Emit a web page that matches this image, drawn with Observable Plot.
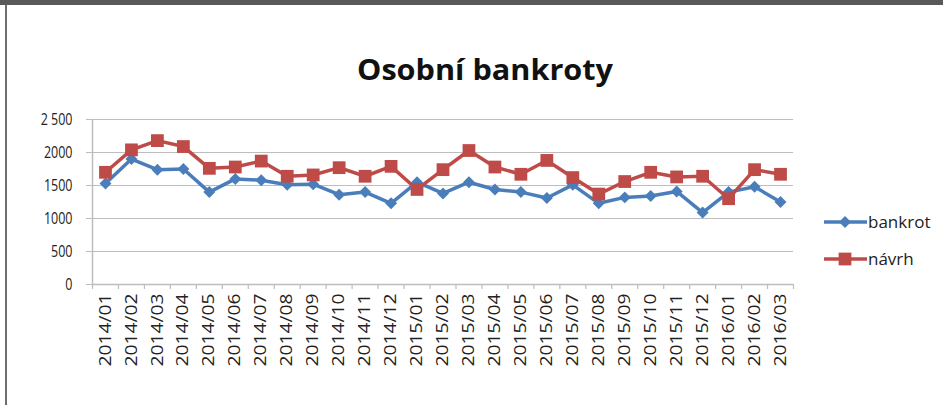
<!DOCTYPE html>
<html>
<head>
<meta charset="utf-8">
<script src="https://cdn.jsdelivr.net/npm/d3@7"></script>
<script src="https://cdn.jsdelivr.net/npm/@observablehq/plot@0.6"></script>
<style>
  html, body { margin: 0; padding: 0; background: #fff; }
  #wrap { position: relative; width: 943px; height: 405px; overflow: hidden; background: #fff; }
  #topbar { position: absolute; left: 0; top: 0; width: 943px; height: 5px; background: #59595b; }
  #leftbar { position: absolute; left: 5px; top: 5px; width: 2px; height: 400px; background: #6e6e6e; }
</style>
</head>
<body>
<div id="wrap"><div id="chart"></div><div id="topbar"></div><div id="leftbar"></div></div>
<script>
// ---- data ----
const months = ["2014/01","2014/02","2014/03","2014/04","2014/05","2014/06","2014/07","2014/08","2014/09","2014/10","2014/11","2014/12",
                "2015/01","2015/02","2015/03","2015/04","2015/05","2015/06","2015/07","2015/08","2015/09","2015/10","2015/11","2015/12",
                "2016/01","2016/02","2016/03"];
const bankrot = [1530,1900,1740,1750,1400,1600,1580,1510,1520,1360,1400,1230,1550,1380,1550,1440,1400,1310,1510,1230,1320,1340,1410,1090,1400,1480,1250];
const navrh   = [1700,2040,2180,2090,1760,1780,1870,1640,1660,1770,1640,1790,1440,1740,2030,1780,1670,1880,1620,1370,1560,1700,1630,1640,1300,1740,1670];
const seriesNames = ["bankrot", "návrh"];
const yTicks = [0, 500, 1000, 1500, 2000, 2500];
const yTickLabels = ["0", "500", "1000", "1500", "2000", "2 500"];
const title = "Osobní bankroty";

// ---- layout / style ----
const W = 943, H = 405;
const mL = 92, mR = 150, mT = 119, mB = 121;
const blue = "#4a7ebb", red = "#be4b48", gridC = "#bdbdbd", axisC = "#bdbdbd", textC = "#222";
const font = "Open Sans";

const n = months.length;
const idx = d3.range(n);
const rowsB = idx.map(i => ({i, month: months[i], value: bankrot[i]}));
const rowsN = idx.map(i => ({i, month: months[i], value: navrh[i]}));
const boundaries = d3.range(n + 1).map(i => i - 0.5);
const labelOf = new Map(yTicks.map((t, i) => [t, yTickLabels[i]]));

const chart = Plot.plot({
  width: W, height: H,
  marginLeft: mL, marginRight: mR, marginTop: mT, marginBottom: mB,
  style: {fontFamily: font, fontSize: "15px", color: textC, background: "transparent"},
  x: {domain: [-0.5, n - 0.5], label: null},
  y: {domain: [0, 2500], label: null},
  marks: [
    Plot.gridY(yTicks, {stroke: gridC, strokeOpacity: 1, strokeWidth: 1.2}),
    // y axis line
    Plot.ruleX([-0.5], {y1: 0, y2: 2500, stroke: axisC, strokeWidth: 1.5}),
    // x axis line
    Plot.ruleY([0], {stroke: axisC, strokeWidth: 1.5}),
    // category boundary ticks
    Plot.ruleX(boundaries, {y1: 0, y2: 0, insetBottom: -5, stroke: axisC, strokeWidth: 1.2}),
    Plot.axisY({ticks: yTicks, tickFormat: d => labelOf.get(d), tickSize: 6, tickPadding: 14, stroke: axisC, fill: textC, fontSize: 16, label: null}),
    Plot.axisX({ticks: idx, tickFormat: i => months[i], tickSize: 0, tickPadding: 9, tickRotate: -90, fill: textC, fontSize: 16, label: null}),
    Plot.line(rowsB, {x: "i", y: "value", stroke: blue, strokeWidth: 3.5}),
    Plot.dot(rowsB, {x: "i", y: "value", symbol: "diamond2", r: 5.4, fill: blue, stroke: "none"}),
    Plot.line(rowsN, {x: "i", y: "value", stroke: red, strokeWidth: 3.5}),
    Plot.dot(rowsN, {x: "i", y: "value", symbol: "square", r: 7.2, fill: red, stroke: "none"})
  ]
});
document.getElementById("chart").appendChild(chart);

const svg = d3.select(chart);
// stretch/compress tick labels to match reference proportions
svg.selectAll('g[aria-label="y-axis tick label"] text').each(function() {
  const L = this.getComputedTextLength();
  this.setAttribute("textLength", L * 0.78);
  this.setAttribute("lengthAdjust", "spacingAndGlyphs");
});
svg.selectAll('g[aria-label="x-axis tick label"] text').each(function() {
  this.setAttribute("textLength", 73);
  this.setAttribute("lengthAdjust", "spacingAndGlyphs");
});

// title
svg.append("text")
  .attr("x", 485).attr("y", 80)
  .attr("text-anchor", "middle")
  .attr("font-family", font).attr("font-weight", "bold").attr("font-size", 28)
  .attr("fill", "#111")
  .attr("textLength", 256).attr("lengthAdjust", "spacingAndGlyphs")
  .text(title);

// legend
const legend = svg.append("g").attr("font-family", font).attr("font-size", 17).attr("fill", textC).attr("text-anchor", "start");
const legItems = [
  {name: seriesNames[0], color: blue, sym: d3.symbolDiamond2, r: 5.4},
  {name: seriesNames[1], color: red, sym: d3.symbolSquare, r: 7.2}
];
legItems.forEach((it, k) => {
  const y = 222 + k * 37;
  const g = legend.append("g");
  g.append("line").attr("x1", 824).attr("x2", 867).attr("y1", y).attr("y2", y)
    .attr("stroke", it.color).attr("stroke-width", 3.5);
  g.append("path").attr("transform", `translate(845,${y})`)
    .attr("d", d3.symbol(it.sym, it.r * it.r * Math.PI)()).attr("fill", it.color);
  g.append("text").attr("x", 868).attr("y", y).attr("dy", "0.36em")
    .attr("text-anchor", "start").text(it.name);
});
</script>
</body>
</html>
